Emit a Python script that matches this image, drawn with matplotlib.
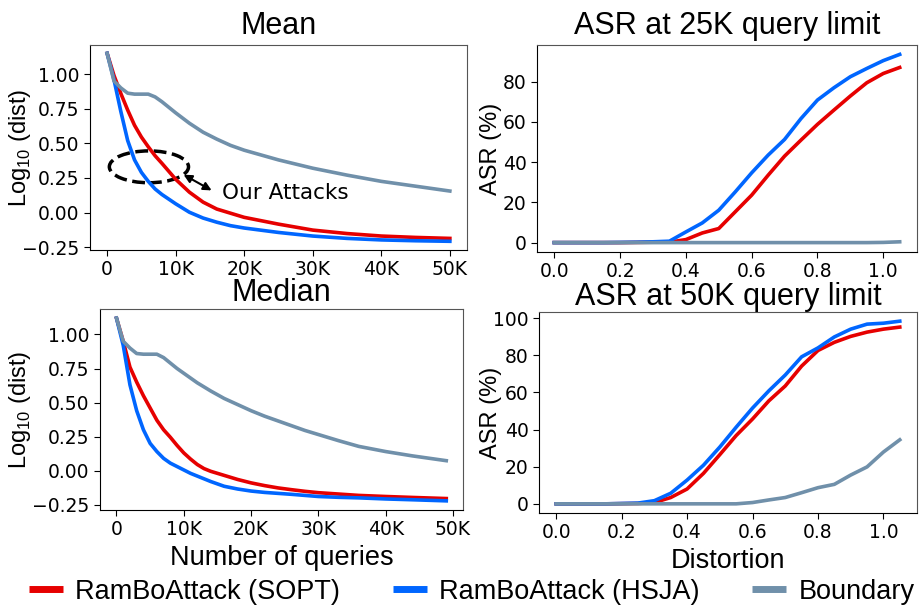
import matplotlib
matplotlib.use('Agg')
import matplotlib.pyplot as plt
from matplotlib.patches import Ellipse
from matplotlib.ticker import FuncFormatter

plt.rcParams['mathtext.fontset'] = 'custom'
plt.rcParams['mathtext.rm'] = 'Liberation Sans'

RED = '#e60000'
BLUE = '#0066ff'
GRAY = '#7090aa'

# mean log10 distance vs. queries
mean_q = [0, 1000, 2000, 3000, 4000, 5000, 6000, 7000, 8000, 10000, 12000, 14000,
          16000, 18000, 20000, 25000, 30000, 35000, 40000, 45000, 50000]
mean_sopt = [1.15, 0.99, 0.86, 0.74, 0.63, 0.545, 0.475, 0.41, 0.355, 0.24, 0.147, 0.075,
             0.025, -0.005, -0.035, -0.084, -0.127, -0.152, -0.17, -0.18, -0.187]
mean_hsja = [1.15, 0.96, 0.73, 0.52, 0.38, 0.29, 0.225, 0.17, 0.13, 0.063, 0.002, -0.04,
             -0.07, -0.095, -0.112, -0.144, -0.17, -0.187, -0.198, -0.204, -0.208]
mean_boundary = [1.15, 0.95, 0.90, 0.862, 0.855, 0.855, 0.855, 0.835, 0.80, 0.72, 0.645, 0.58,
                 0.53, 0.485, 0.45, 0.38, 0.32, 0.27, 0.225, 0.19, 0.155]

# median log10 distance vs. queries
med_q = [0, 1000, 2000, 3000, 4000, 5000, 6000, 7000, 8000, 9000, 10000, 11000, 12000,
         13000, 14000, 16000, 18000, 20000, 22000, 24000, 26000, 28000, 30000, 33000,
         36000, 40000, 44000, 49000]
med_sopt = [1.12, 0.95, 0.76, 0.65, 0.55, 0.46, 0.37, 0.30, 0.245, 0.185, 0.13, 0.085, 0.045,
            0.015, -0.005, -0.035, -0.065, -0.09, -0.11, -0.127, -0.14, -0.152, -0.162, -0.172,
            -0.182, -0.19, -0.197, -0.205]
med_hsja = [1.12, 0.92, 0.63, 0.44, 0.30, 0.20, 0.14, 0.09, 0.055, 0.03, 0.005, -0.02, -0.04,
            -0.06, -0.08, -0.115, -0.135, -0.15, -0.16, -0.167, -0.174, -0.182, -0.19, -0.196,
            -0.2, -0.208, -0.214, -0.222]
med_boundary = [1.12, 0.95, 0.90, 0.86, 0.855, 0.855, 0.855, 0.83, 0.79, 0.75, 0.715, 0.68,
                0.645, 0.615, 0.585, 0.53, 0.485, 0.44, 0.40, 0.365, 0.33, 0.295, 0.265, 0.22,
                0.178, 0.14, 0.108, 0.073]

# ASR vs. distortion
dist = [0.0, 0.05, 0.1, 0.15, 0.2, 0.25, 0.3, 0.35, 0.4, 0.45, 0.5, 0.55, 0.6, 0.65, 0.7,
        0.75, 0.8, 0.85, 0.9, 0.95, 1.0, 1.05]
asr25_sopt = [0, 0, 0, 0, 0, 0.1, 0.2, 0.2, 1.5, 4.8, 7, 15.3, 23.6, 33.5, 43, 51, 58.8,
              65.9, 72.9, 79.5, 84.1, 87.1]
asr25_hsja = [0, 0, 0, 0, 0.1, 0.2, 0.4, 0.7, 5.3, 9.8, 16.1, 25.2, 34.7, 43.5, 51.3, 61.7,
              70.9, 77, 82.5, 86.6, 90.5, 93.6]
asr25_boundary = [0, 0, 0, 0, 0, 0, 0, 0, 0, 0, 0, 0, 0, 0, 0, 0, 0, 0, 0, 0, 0.1, 0.4]
asr50_sopt = [0, 0, 0, 0, 0.1, 0.2, 0.7, 3.4, 8, 16.4, 26.5, 36.8, 45.7, 55.5, 63.5, 74.2,
              82.6, 87, 90.2, 92.5, 94.1, 95.2]
asr50_hsja = [0, 0, 0, 0, 0.2, 0.4, 1.7, 5.7, 12.8, 20.8, 30.6, 41.3, 51.6, 60.9, 69.4, 79.2,
              84, 89.9, 94.1, 96.8, 97.3, 98.4]
asr50_boundary = [0, 0, 0, 0, 0, 0, 0, 0, 0, 0, 0, 0, 0.7, 2.1, 3.4, 6, 8.7, 10.5, 15.5, 19.9,
                  27.9, 34.5]

labels = ['RamBoAttack (SOPT)', 'RamBoAttack (HSJA)', 'Boundary']
query_ticks = [0, 10000, 20000, 30000, 40000, 50000]

TITLE = dict(fontsize=22, family='Liberation Sans')
XLAB = dict(fontsize=19.5, family='Liberation Sans')
YLAB = dict(fontsize=17, family='Liberation Sans')
LW = 2.6

fig = plt.figure(figsize=(9.2, 6.08), dpi=100)
ax1 = fig.add_axes([0.0978, 0.589, 0.4098, 0.337])
ax2 = fig.add_axes([0.5837, 0.5855, 0.413, 0.3405])
ax3 = fig.add_axes([0.1087, 0.1612, 0.3943, 0.3306])
ax4 = fig.add_axes([0.5859, 0.1563, 0.4108, 0.3305])


def kfmt(v, pos):
    return '0' if v == 0 else '%dK' % (v / 1000)


def style(ax):
    ax.tick_params(labelsize=13.5, length=4)
    for side in ['top', 'right']:
        ax.spines[side].set_color('#555555')
    for side in ['left', 'bottom']:
        ax.spines[side].set_color('black')


# Mean
ax1.plot(mean_q, mean_sopt, color=RED, lw=LW)
ax1.plot(mean_q, mean_hsja, color=BLUE, lw=LW)
ax1.plot(mean_q, mean_boundary, color=GRAY, lw=LW)
ax1.set_title('Mean', pad=8, **TITLE)
ax1.set_ylabel(r'Log$_{\mathrm{10}}$ (dist)', **YLAB)
ax1.yaxis.set_label_coords(-0.151, 0.5)
ax1.set_xticks(query_ticks)
ax1.xaxis.set_major_formatter(FuncFormatter(kfmt))
ax1.set_yticks([-0.25, 0, 0.25, 0.5, 0.75, 1.0])
ax1.set_ylim(-0.27, 1.21)
ax1.add_patch(Ellipse((6100, 0.33), 11550, 0.23, fill=False, ls='--', lw=2.5, ec='black'))
ax1.annotate('', xy=(15600, 0.15), xytext=(10800, 0.283),
             arrowprops=dict(arrowstyle='<|-|>', color='black', lw=1.5, mutation_scale=12))
ax1.text(16700, 0.14, 'Our Attacks', fontsize=15.5, va='center')
style(ax1)

# ASR 25K
ax2.plot(dist, asr25_sopt, color=RED, lw=LW)
ax2.plot(dist, asr25_hsja, color=BLUE, lw=LW)
ax2.plot(dist, asr25_boundary, color=GRAY, lw=LW)
ax2.set_title('ASR at 25K query limit', pad=8, **TITLE)
ax2.set_ylabel('ASR (%)', **YLAB)
ax2.yaxis.set_label_coords(-0.092, 0.5)
ax2.set_yticks([0, 20, 40, 60, 80])
style(ax2)

# Median
ax3.plot(med_q, med_sopt, color=RED, lw=LW)
ax3.plot(med_q, med_hsja, color=BLUE, lw=LW)
ax3.plot(med_q, med_boundary, color=GRAY, lw=LW)
ax3.set_title('Median', pad=6, **TITLE)
ax3.set_ylabel(r'Log$_{\mathrm{10}}$ (dist)', **YLAB)
ax3.yaxis.set_label_coords(-0.185, 0.5)
ax3.set_xlabel('Number of queries', labelpad=4, **XLAB)
ax3.set_xticks(query_ticks)
ax3.xaxis.set_major_formatter(FuncFormatter(kfmt))
ax3.set_yticks([-0.25, 0, 0.25, 0.5, 0.75, 1.0])
ax3.set_xlim(-2450, 51450)
style(ax3)

# ASR 50K
ax4.plot(dist, asr50_sopt, color=RED, lw=LW)
ax4.plot(dist, asr50_hsja, color=BLUE, lw=LW)
ax4.plot(dist, asr50_boundary, color=GRAY, lw=LW)
ax4.set_title('ASR at 50K query limit', pad=1, **TITLE)
ax4.set_ylabel('ASR (%)', **YLAB)
ax4.yaxis.set_label_coords(-0.098, 0.5)
ax4.set_xlabel('Distortion', labelpad=4, **XLAB)
ax4.set_yticks([0, 20, 40, 60, 80, 100])
style(ax4)

handles = [plt.Line2D([], [], color=c, lw=5, solid_capstyle='butt') for c in [RED, BLUE, GRAY]]
fig.legend(handles, labels, loc='lower center', bbox_to_anchor=(0.513, -0.035), ncol=3,
           frameon=False, prop={'family': 'Liberation Sans', 'size': 19.5},
           handlelength=1.25, handletextpad=0.45, columnspacing=1.95)

fig.savefig('out.png', dpi=100)
